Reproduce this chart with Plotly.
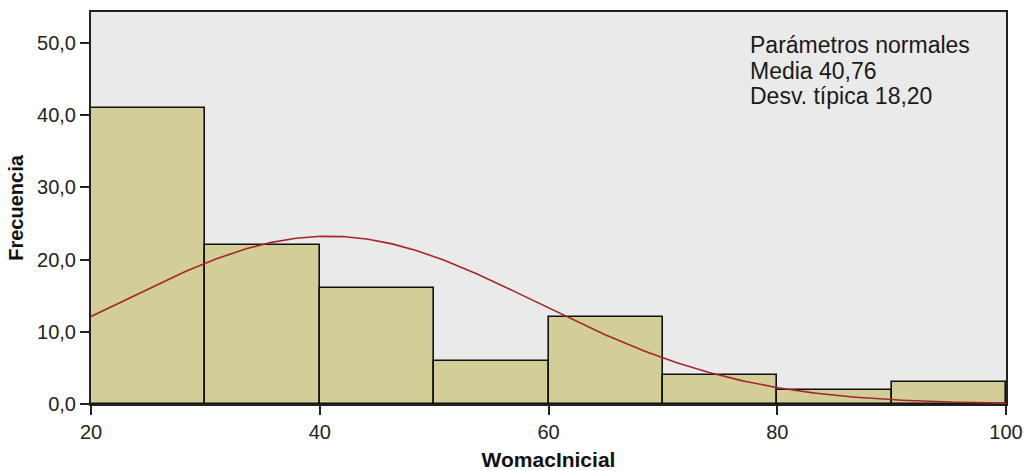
import numpy as np
import plotly.graph_objects as go

# Data
bin_edges = [20, 30, 40, 50, 60, 70, 80, 90, 100]
counts = [41, 22, 16, 6, 12, 4, 2, 3]
mean_val = 40.76
sd_val = 18.20
y_ticks = [0, 10, 20, 30, 40, 50]
y_tick_labels = ["0,0", "10,0", "20,0", "30,0", "40,0", "50,0"]
x_ticks = [20, 40, 60, 80, 100]
x_tick_labels = ["20", "40", "60", "80", "100"]
info_lines = ["Parámetros normales", "Media 40,76", "Desv. típica 18,20"]

centers = [(a + b) / 2 for a, b in zip(bin_edges[:-1], bin_edges[1:])]
widths = [b - a for a, b in zip(bin_edges[:-1], bin_edges[1:])]
n_total = sum(counts)
bw = widths[0]

xc = np.linspace(bin_edges[0], bin_edges[-1], 300)
yc = n_total * bw / (sd_val * np.sqrt(2 * np.pi)) * np.exp(-0.5 * ((xc - mean_val) / sd_val) ** 2)

FONT = "Liberation Sans, Arial, sans-serif"

fig = go.Figure()
fig.add_trace(go.Bar(
    x=centers, y=counts, width=widths,
    marker=dict(color="#D3CE98", line=dict(color="#111111", width=1.6)),
    hoverinfo="skip", showlegend=False,
))
fig.add_trace(go.Scatter(
    x=xc, y=yc, mode="lines",
    line=dict(color="#A3272B", width=1.6),
    hoverinfo="skip", showlegend=False,
))

for i, t in enumerate(info_lines):
    fig.add_annotation(
        xref="paper", yref="paper", x=(748 - 91) / (1006 - 91),
        y=1 - (45 + 25.5 * i - 12) / (404 - 12), xanchor="left", yanchor="middle",
        text=t, showarrow=False,
        font=dict(family=FONT, size=23, color="#1a1a1a"),
    )

fig.update_layout(
    width=1029, height=471,
    margin=dict(l=91, r=23, t=12, b=67),
    paper_bgcolor="white",
    plot_bgcolor="#EAEAEA",
    bargap=0,
    font=dict(family=FONT, color="#222222"),
    xaxis=dict(
        range=[20, 100], tickvals=x_ticks, ticktext=x_tick_labels,
        showgrid=False, zeroline=False, automargin=False,
        showline=True, linecolor="#222222", linewidth=2, mirror=True,
        ticks="outside", ticklen=9, tickwidth=2, tickcolor="#222222",
        tickfont=dict(size=20, family=FONT, color="#222222"),
        title=dict(text="<b>WomacInicial</b>", font=dict(size=21, family=FONT, color="#111111"), standoff=10),
    ),
    yaxis=dict(
        range=[0, 54.3], tickvals=y_ticks, ticktext=y_tick_labels,
        showgrid=False, zeroline=False, automargin=False,
        showline=True, linecolor="#222222", linewidth=2, mirror=True,
        ticks="outside", ticklen=9, tickwidth=2, tickcolor="#222222",
        tickfont=dict(size=20, family=FONT, color="#222222"),
        title=dict(text="<b>Frecuencia</b>", font=dict(size=20, family=FONT, color="#111111"), standoff=8),
    ),
)

fig.write_html(
    "out.html",
    config={"displayModeBar": False},
    post_script="document.body.style.margin='0';document.body.style.overflow='hidden';",
)
